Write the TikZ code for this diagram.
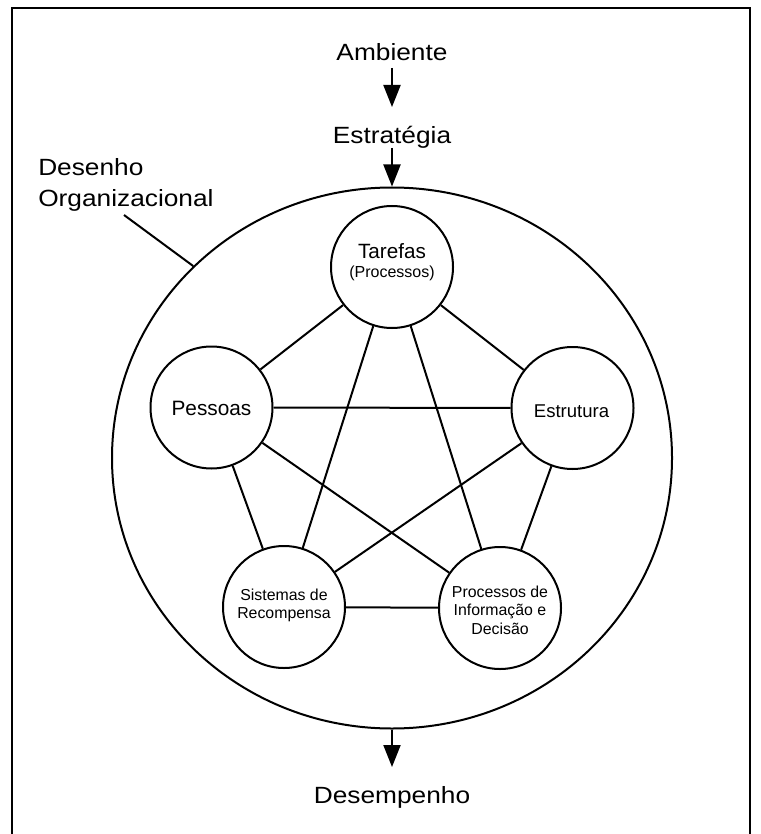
\documentclass[tikz,border=0pt]{standalone}
\usepackage{fontspec}
\setmainfont{Liberation Sans}
\usepackage{graphicx}
\usetikzlibrary{arrows.meta,shapes.geometric,calc}

% centred lines whose baseline is the baseline of the first line
\newcommand\linestack[1]{\vtop{\halign{\hfil##\hfil\cr#1\crcr}}}
% slightly widened lettering for the outer labels
\newcommand\widetext[1]{\scalebox{1.12}[1]{#1}}

\begin{document}
\begin{tikzpicture}[x=0.75pt,y=-0.75pt,
  ln/.style={line width=1.5pt},
  outer/.style={ellipse, draw, ln, minimum width=420pt, minimum height=405.75pt, inner sep=0pt},
  part/.style={circle, draw, ln, minimum size=91.5pt, inner sep=0pt},
  biglabel/.style={inner sep=0pt, anchor=base, font=\fontsize{17.6pt}{23.25pt}\selectfont},
  partlabel/.style={inner sep=0pt, anchor=base},
  arr/.style={ln, -{Triangle[length=16.5pt,width=12.75pt]}},
  link/.style={ln}]

\useasboundingbox (0,0) rectangle (760,834);
\clip (0,0) rectangle (760,834);

% page frame (open at the bottom)
\draw[line width=1.6pt] (12,870) -- (12,8) -- (750,8) -- (750,870);

% outer labels
\node[biglabel] (ambiente) at (392,61) {\widetext{Ambiente}};
\node[biglabel] (estrategia) at (392,144) {\widetext{Estratégia}};
\node[biglabel] (desempenho) at (392,803) {\widetext{Desempenho}};
\node[biglabel, anchor=base west] (desenho) at (38,176)
  {\widetext{\vtop{\hbox{Desenho}\hbox{Organizacional}}}};

% organisational design boundary
\node[outer] (big) at (392,458) {};

% the five components
\node[part] (tar) at (392,267) {};
\node[part] (pes) at (211.5,407.5) {};
\node[part] (est) at (572.5,408) {};
\node[part] (sis) at (284,607) {};
\node[part] (pro) at (500,608) {};

\node[partlabel, font=\fontsize{15.5pt}{14.25pt}\selectfont] (tar-txt) at (392,258)
  {\linestack{Tarefas\cr{\fontsize{12pt}{14.25pt}\selectfont(Processos)}}};
\node[partlabel, font=\fontsize{15.6pt}{18pt}\selectfont] (pes-txt) at (211.5,415) {Pessoas};
\node[partlabel, font=\fontsize{13.9pt}{16pt}\selectfont] (est-txt) at (571.5,417) {Estrutura};
\node[partlabel, font=\fontsize{11.9pt}{13.9pt}\selectfont] (sis-txt) at (284,600)
  {\linestack{Sistemas de\cr Recompensa}};
\node[partlabel, font=\fontsize{11.9pt}{13.9pt}\selectfont] (pro-txt) at (500,597)
  {\linestack{Processos de\cr Informação e\cr Decisão}};

% every component linked with every other
\foreach \a/\b in {tar/pes, tar/est, tar/sis, tar/pro, pes/est,
                   pes/sis, pes/pro, est/sis, est/pro, sis/pro}
  \draw[link] (\a) -- (\b);

% flow arrows
\draw[arr] ($(ambiente.base)+(0,7)$) -- ($(estrategia.base)+(0,-37)$);
\draw[arr] ($(estrategia.base)+(0,4)$) -- (big.north);
\draw[arr] (big.south) -- ($(desempenho.base)+(0,-36)$);

% leader from the label to the boundary
\coordinate (lead) at (124,215);
\draw[ln] (lead) -- (big.136);

\end{tikzpicture}
\end{document}
